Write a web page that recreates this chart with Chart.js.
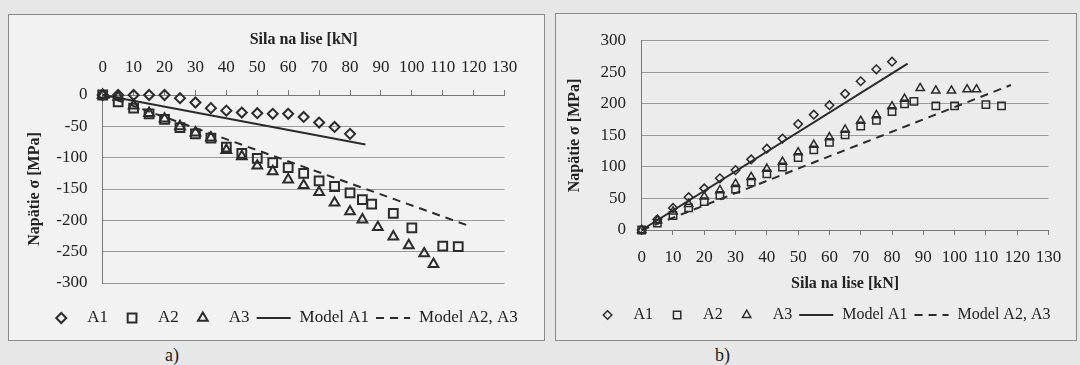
<!DOCTYPE html>
<html lang="sk">
<head>
<meta charset="utf-8">
<title>Napätie σ – sila na lise</title>
<script src="https://cdn.jsdelivr.net/npm/chart.js@4.4.1/dist/chart.umd.min.js"></script>
<style>
  html, body { margin: 0; padding: 0; }
  body {
    width: 1080px; height: 365px; position: relative; overflow: hidden;
    background: #e7e7e7; color: #222;
    font-family: "Liberation Serif", "Times New Roman", serif;
  }
  .panel { position: absolute; box-sizing: border-box; border: 1.5px solid #8a8a8a; }
  #panelA { left: 8px; top: 14px; width: 537px; height: 327px; background: #f2f2f2; }
  #panelB { left: 555px; top: 13px; width: 522px; height: 328px; background: #ececec; }
  canvas { position: absolute; }
  #chartA { left: 10px; top: 17px; }
  #chartB { left: 557px; top: 15px; }
  .tag { position: absolute; top: 344px; font-size: 18px; line-height: 22px; }
</style>
</head>
<body>
<div class="panel" id="panelA"></div>
<div class="panel" id="panelB"></div>
<canvas id="chartA" width="532" height="321"></canvas>
<canvas id="chartB" width="517" height="323"></canvas>
<div class="tag" style="left:165px">a)</div>
<div class="tag" style="left:715px">b)</div>
<script>
const INK = '#222';
const AXIS = '#777';
const GRID = '#9a9a9a';
const MARK = '#2b2b2b';
const SERIF = '"Liberation Serif", "Times New Roman", serif';

// load steps of the measurements [kN]
const forceA1 = [0, 5, 10, 15, 20, 25, 30, 35, 40, 45, 50, 55, 60, 65, 70, 75, 80];
const forceA2 = [0, 5, 10, 15, 20, 25, 30, 35, 40, 45, 50, 55, 60, 65, 70, 75, 80, 84, 87, 94, 100, 110, 115];
const forceA3 = [0, 5, 10, 15, 20, 25, 30, 35, 40, 45, 50, 55, 60, 65, 70, 75, 80, 84, 89, 94, 99, 104, 107];

// a) stress [MPa]
const stressA1a = [0, 0, 0, 0, 0, -5, -12, -21, -25, -28, -29, -30, -30, -35, -44, -51, -62];
const stressA2a = [0, -11, -21, -30, -39, -52, -62, -69, -83, -93, -101, -108, -116, -125, -137, -146, -156, -167, -174, -189, -212, -241, -242];
const stressA3a = [0, -3, -17, -29, -38, -50, -60, -68, -88, -98, -113, -122, -135, -144, -155, -172, -186, -199, -211, -226, -240, -253, -270];

// b) stress [MPa]
const stressA1b = [0, 17, 35, 52, 66, 82, 95, 112, 129, 145, 168, 183, 198, 216, 236, 255, 267];
const stressA2b = [0, 11, 23, 35, 45, 55, 65, 76, 89, 100, 115, 127, 139, 151, 165, 174, 188, 200, 204, 197, 197, 199, 197];
const stressA3b = [0, 15, 29, 41, 53, 63, 73, 84, 97, 108, 123, 135, 147, 159, 173, 182, 196, 208, 225, 221, 221, 223, 223];

// model lines
const modelA1Force = [0, 85];
const modelA23Force = [0, 118];
const modelA1a = [0, -79];
const modelA23a = [0, -208];
const modelA1b = [0, 264];
const modelA23b = [0, 230];

// tick labels
const forceTicks = [0, 10, 20, 30, 40, 50, 60, 70, 80, 90, 100, 110, 120, 130];
const stressTicksA = [0, -50, -100, -150, -200, -250, -300];
const stressTicksB = [0, 50, 100, 150, 200, 250, 300];

Chart.defaults.font.family = SERIF;
Chart.defaults.color = INK;

function points(xs, ys) {
  return xs.map((x, i) => ({ x, y: ys[i] }));
}

function markerPath(ctx, style, x, y, r) {
  ctx.beginPath();
  if (style === 'rectRot') {
    ctx.moveTo(x, y - r); ctx.lineTo(x + r, y); ctx.lineTo(x, y + r); ctx.lineTo(x - r, y);
  } else if (style === 'rect') {
    const s = r * Math.SQRT1_2;
    ctx.rect(x - s, y - s, 2 * s, 2 * s);
  } else {
    for (let k = 0; k < 3; k++) {
      const a = k * 2 * Math.PI / 3;
      ctx[k ? 'lineTo' : 'moveTo'](x + Math.sin(a) * r, y - Math.cos(a) * r);
    }
  }
  ctx.closePath();
}

// excel-like legend row under the plot
const sheetLegend = {
  id: 'sheetLegend',
  afterDraw(chart, args, opts) {
    const { ctx } = chart;
    ctx.save();
    ctx.font = `${opts.size}px ${SERIF}`;
    ctx.textBaseline = 'middle';
    const items = chart.data.datasets.map((ds) => ({ ds, w: opts.box + opts.gap + ctx.measureText(ds.label).width }));
    const total = items.reduce((s, it) => s + it.w, 0) + opts.pad * (items.length - 1);
    let x = opts.cx - total / 2;
    items.forEach(({ ds, w }) => {
      ctx.strokeStyle = MARK;
      if (ds.showLine) {
        ctx.lineWidth = ds.borderWidth;
        ctx.setLineDash(ds.borderDash || []);
        ctx.beginPath();
        ctx.moveTo(x + 1, opts.y);
        ctx.lineTo(x + opts.box - 1, opts.y);
        ctx.stroke();
        ctx.setLineDash([]);
      } else {
        ctx.lineWidth = ds.pointBorderWidth;
        markerPath(ctx, ds.pointStyle, x + opts.box / 2, opts.y, ds.pointRadius);
        ctx.stroke();
      }
      ctx.fillStyle = INK;
      ctx.fillText(ds.label, x + opts.box + opts.gap, opts.y);
      x += w + opts.pad;
    });
    ctx.restore();
  }
};

function buildDatasets(a1, a2, a3, m1, m23, sz) {
  const marker = (label, xs, ys, style, r) => ({
    label, data: points(xs, ys), showLine: false, clip: false,
    pointStyle: style, pointRadius: r, pointHoverRadius: r,
    pointBorderWidth: sz.bw, pointBorderColor: MARK, pointBackgroundColor: 'rgba(0,0,0,0)'
  });
  const model = (label, xs, ys, dash) => ({
    label, data: points(xs, ys), showLine: true, clip: false, pointRadius: 0, pointHoverRadius: 0,
    borderColor: MARK, borderWidth: 2, borderDash: dash, fill: false
  });
  return [
    marker('A1', forceA1, a1, 'rectRot', sz.diamond),
    marker('A2', forceA2, a2, 'rect', sz.square),
    marker('A3', forceA3, a3, 'triangle', sz.triangle),
    model('Model A1', modelA1Force, m1, []),
    model('Model A2, A3', modelA23Force, m23, [8, 6])
  ];
}

function forceAxis(position, o) {
  return {
    type: 'linear', position, min: 0, max: 130,
    afterBuildTicks: (s) => { s.ticks = forceTicks.map((v) => ({ value: v })); },
    afterFit: (s) => { s.height = o.height; },
    ticks: { color: INK, padding: o.pad, font: { size: 17 }, maxRotation: 0, minRotation: 0, autoSkip: false },
    grid: { drawOnChartArea: false, drawTicks: true, tickLength: 5, color: AXIS },
    border: { display: true, color: AXIS, width: 1 },
    title: { display: true, text: 'Sila na lise [kN]', color: INK, font: { size: 16, weight: 'bold' }, padding: o.titlePad }
  };
}

function stressAxis(min, max, list, o) {
  return {
    type: 'linear', position: 'left', min, max,
    afterBuildTicks: (s) => { s.ticks = list.map((v) => ({ value: v })); },
    afterFit: (s) => { s.width = o.width; },
    ticks: { color: INK, padding: o.pad, font: { size: 17 } },
    grid: { color: GRID, drawTicks: false, lineWidth: 1 },
    border: { display: true, color: AXIS, width: 1 },
    title: { display: true, text: 'Napätie σ [MPa]', color: INK, font: { size: 16, weight: 'bold' }, padding: { top: o.titlePad, bottom: 0 } }
  };
}

function makeChart(id, datasets, scales, padding, legend) {
  return new Chart(document.getElementById(id), {
    type: 'scatter',
    data: { datasets },
    options: {
      responsive: false,
      devicePixelRatio: 1,
      animation: false,
      layout: { padding },
      plugins: { legend: { display: false }, tooltip: { enabled: false }, sheetLegend: legend },
      scales
    },
    plugins: [sheetLegend]
  });
}

makeChart('chartA',
  buildDatasets(stressA1a, stressA2a, stressA3a, modelA1a, modelA23a, { bw: 2, diamond: 5, square: 6.2, triangle: 5.6 }),
  {
    x: forceAxis('top', { height: 78, pad: 11.8, titlePad: { top: 13.4, bottom: 0 } }),
    y: stressAxis(-300, 0, stressTicksA, { width: 92.7, pad: 15.2, titlePad: 15.4 })
  },
  { left: 0, top: 0, right: 37.4, bottom: 55 },
  { cx: 270.5, y: 301, size: 17, box: 36, gap: 8, pad: 6 }
);

makeChart('chartB',
  buildDatasets(stressA1b, stressA2b, stressA3b, modelA1b, modelA23b, { bw: 1.5, diamond: 4.3, square: 5.2, triangle: 4.8 }),
  {
    x: forceAxis('bottom', { height: 70, pad: 12.8, titlePad: { top: 0, bottom: 6.4 } }),
    y: stressAxis(0, 300, stressTicksB, { width: 84.7, pad: 15.7, titlePad: 8.4 })
  },
  { left: 0, top: 20, right: 17.3, bottom: 38 },
  { cx: 263, y: 300, size: 16, box: 36, gap: 8, pad: 6 }
);
</script>
</body>
</html>
